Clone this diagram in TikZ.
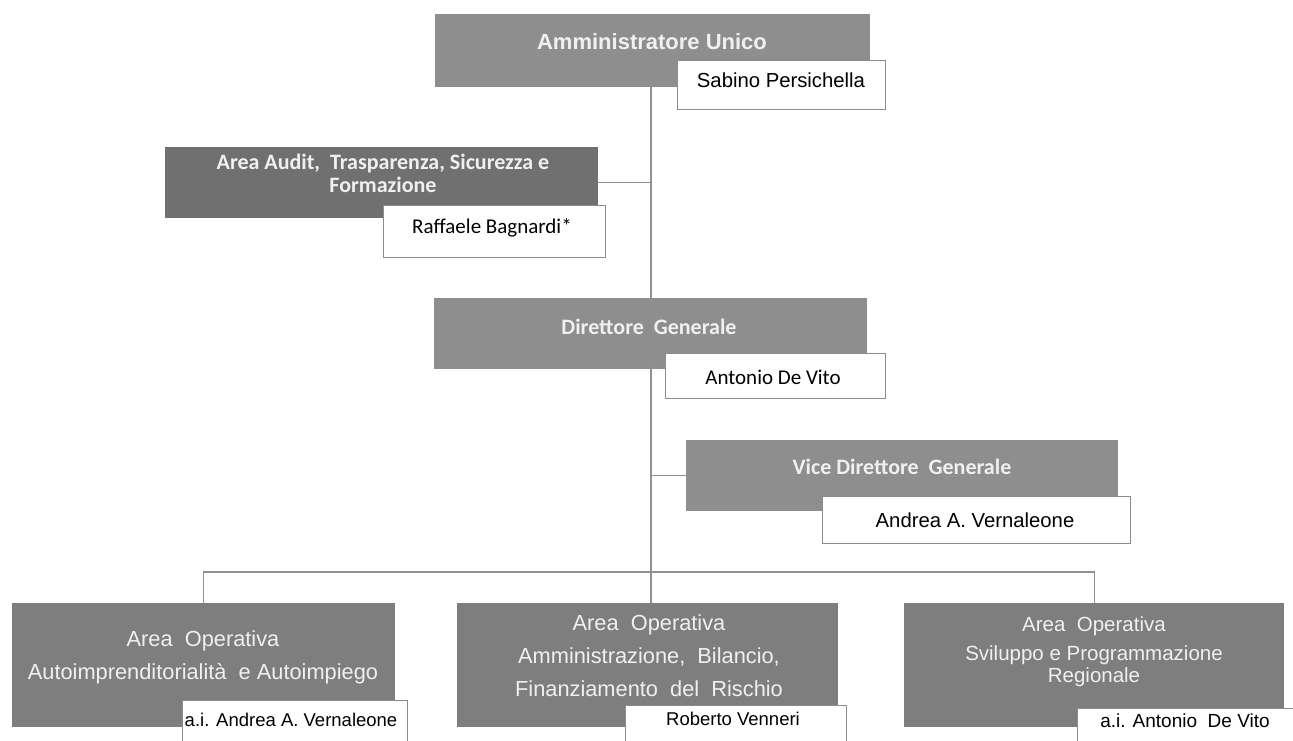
\documentclass[tikz,border=0pt]{standalone}
\usepackage{fontspec}
\setmainfont{Liberation Sans}
\newfontfamily\calfont{Carlito}
\definecolor{midgray}{RGB}{142,142,142}
\definecolor{darkgray2}{RGB}{112,112,112}
\definecolor{opgray}{RGB}{126,126,126}
\definecolor{linegray}{RGB}{145,145,145}
\definecolor{titlewhite}{RGB}{240,240,240}
\definecolor{namegray}{RGB}{140,140,140}
\tikzset{
  box/.style={rectangle, inner sep=0pt, anchor=north west, fill=#1},
  namebox/.style={rectangle, inner sep=0pt, anchor=north west, fill=white, draw=namegray, line width=1pt},
  ctitle/.style={text=titlewhite, inner sep=0pt, align=center, font=\calfont\bfseries\fontsize{22}{23}\selectfont},
  atitle/.style={text=titlewhite, inner sep=0pt, font=\bfseries\fontsize{22}{24}\selectfont},
  optitle/.style={text=titlewhite, inner sep=0pt, align=center, font=\fontsize{21.8}{33}\selectfont},
  aname/.style={text=black, inner sep=0pt, font=\fontsize{20.3}{22}\selectfont},
  cname/.style={text=black, inner sep=0pt, font=\calfont\fontsize{21}{22}\selectfont},
  bname/.style={text=black, inner sep=0pt, font=\fontsize{18.5}{22}\selectfont},
  link/.style={draw=linegray, line width=1.3pt},
}
\begin{document}
\begin{tikzpicture}[x=1pt,y=-1pt]
\useasboundingbox (0,0) rectangle (1293,740);
\clip (0,0) rectangle (1293,740);
\coordinate (spine) at (651,0);
\coordinate (bus) at (0,572);
% Amministratore Unico
\node[box=midgray, minimum width=435, minimum height=73] (au) at (435,14) {};
\node[atitle] (aut) at (652,42) {Amministratore Unico};
\node[namebox, minimum width=208, minimum height=49] (aun) at (677,60) {};
\node[aname] (aunt) at (781,80) {Sabino Persichella};
% Area Audit
\node[box=darkgray2, minimum width=433, minimum height=71] (aa) at (165,147) {};
\node[ctitle] (aat) at (383,173) {Area Audit,\ \ Trasparenza, Sicurezza e\\Formazione};
\node[namebox, minimum width=222, minimum height=52] (aan) at (383,205) {};
\node[cname] (aant) at (492,228) {Raffaele Bagnardi*};
% Direttore Generale
\node[box=midgray, minimum width=433, minimum height=71] (dg) at (434,298) {};
\node[ctitle] (dgt) at (649,327) {Direttore\ \ Generale};
\node[namebox, minimum width=220, minimum height=45] (dgn) at (665,353) {};
\node[cname] (dgnt) at (773,377) {Antonio De Vito};
% Vice Direttore Generale
\node[box=midgray, minimum width=432, minimum height=71] (vd) at (686,440) {};
\node[ctitle] (vdt) at (902,467) {Vice Direttore\ \ Generale};
\node[namebox, minimum width=308, minimum height=47] (vdn) at (822,496) {};
\node[aname] (vdnt) at (975,520) {Andrea A. Vernaleone};
% Bottom areas
\node[box=opgray, minimum width=383, minimum height=124] (o1) at (12,603) {};
\node[optitle] (o1t) at (203,657) {Area\ \ Operativa\\Autoimprenditorialit\`a\ \ e Autoimpiego};
\node[namebox, minimum width=225, minimum height=60] (o1n) at (182,700) {};
\node[bname] (o1nt) at (291,720) {a.i. Andrea A. Vernaleone};
\node[box=opgray, minimum width=381, minimum height=124] (o2) at (457,603) {};
\node[optitle] (o2t) at (649,656) {Area\ \ Operativa\\Amministrazione,\ \ Bilancio,\\Finanziamento\ \ del\ \ Rischio};
\node[namebox, minimum width=221, minimum height=60] (o2n) at (625,705) {};
\node[bname] (o2nt) at (733,719) {Roberto Venneri};
\node[box=opgray, minimum width=380, minimum height=124] (o3) at (904,603) {};
\node[optitle, font=\fontsize{20.5}{29}\selectfont] (o3t) at (1094,652) {Area\ \ Operativa\\Sviluppo e Programmazione\\[-7pt]Regionale};
\node[namebox, minimum width=216, minimum height=60] (o3n) at (1077,708) {};
\node[bname, font=\fontsize{19}{22}\selectfont] (o3nt) at (1185,721) {a.i. Antonio\ \ De Vito};
% connectors
\draw[link] ([yshift=3]au.south -| spine) -- (dg.north -| spine);
\draw[link] (aa.east) -- (aa.east -| spine);
\draw[link] ([yshift=3]dg.south -| spine) -- (o2.north -| spine);
\draw[link] (vd.west -| spine) -- (vd.west);
\draw[link] (o1.north) -- (o1.north |- bus) -- (o3.north |- bus) -- (o3.north);
\end{tikzpicture}
\end{document}
